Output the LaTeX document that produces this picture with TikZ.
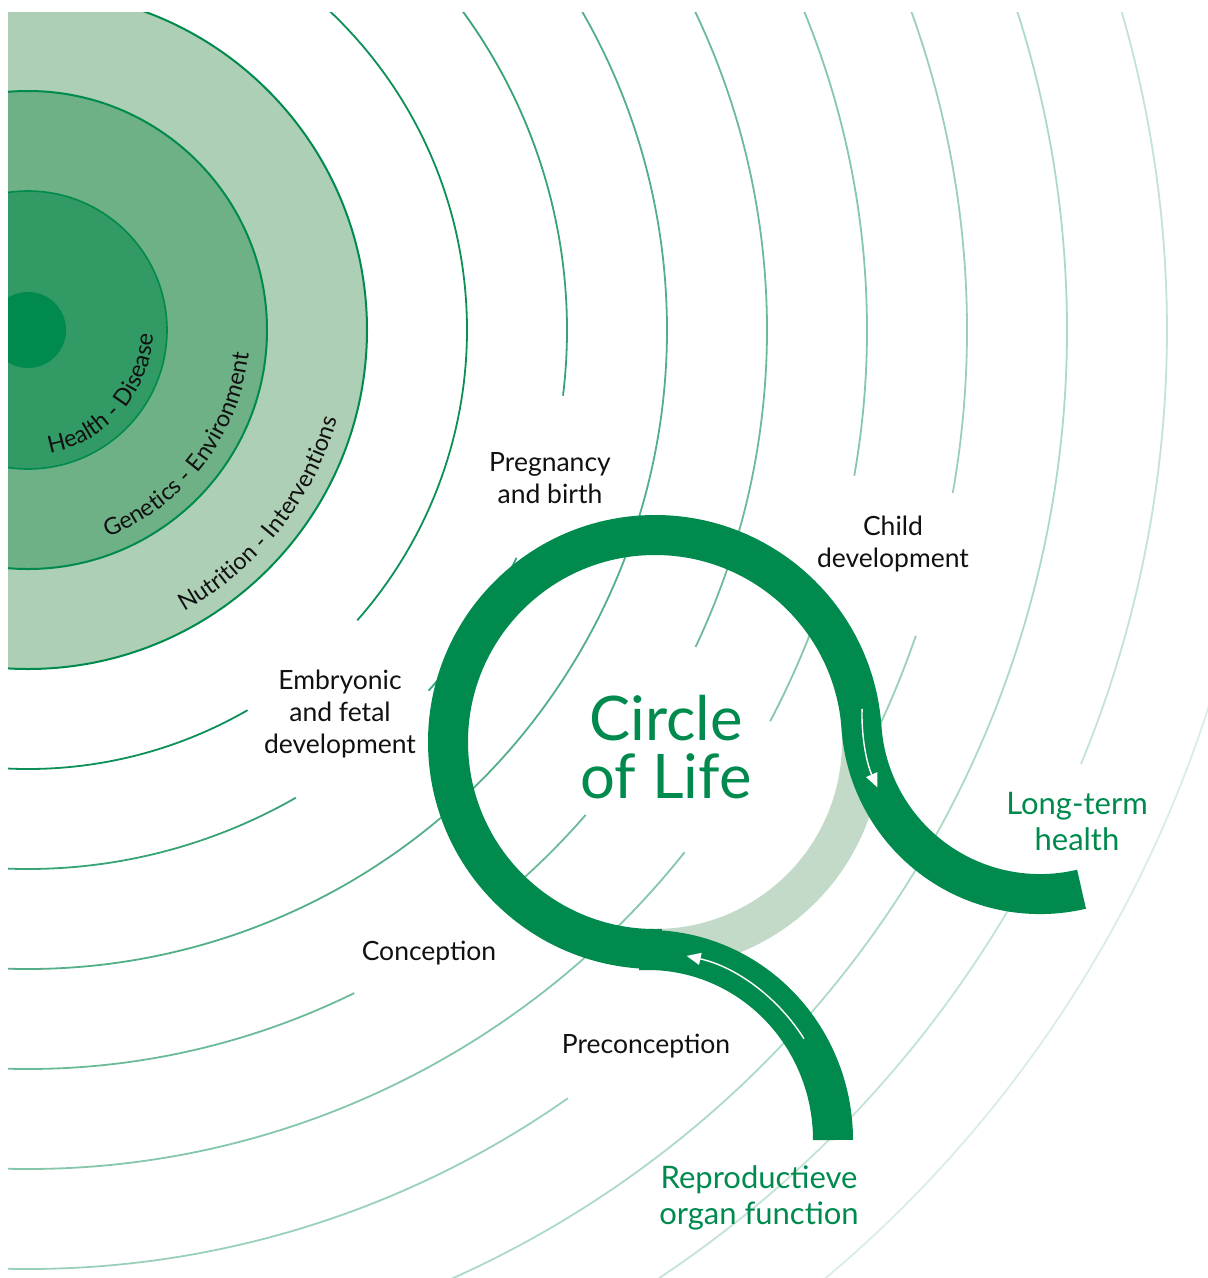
\documentclass[tikz,border=0pt]{standalone}
\usepackage{fontspec}
\setmainfont{Lato}
\usetikzlibrary{arrows.meta,decorations.text}
\definecolor{cg}{HTML}{008A4E}
\definecolor{cband}{HTML}{C2DAC7}
\definecolor{cthree}{HTML}{ADCFB5}
\definecolor{ctwo}{HTML}{6EB186}
\definecolor{cone}{HTML}{329A65}
\definecolor{ctext}{HTML}{111111}
\newcommand\lifearc[4]{\draw[arcline=#1] ([shift={(#2:#4)}]O) arc[start angle=#2,end angle=#3,radius=#4];}
\newcommand\curvefont{\fontsize{23.5}{23.5}\selectfont}
\begin{document}
\begin{tikzpicture}[x=1pt,y=1pt,
  arcline/.style={line width=1.8pt, draw=cg!#1!white},
  ringband/.style={line width=40pt},
  whitearrow/.style={draw=white, line width=1.4pt, -{Triangle[length=14pt,width=12pt,fill=white]}},
  lbl/.style={text=ctext, font=\fontsize{26.5}{32}\selectfont, align=center, inner sep=0pt},
  glbl/.style={text=cg, font=\fontsize{31}{36}\selectfont, align=center, inner sep=0pt},
  ttl/.style={text=cg, font=\fontsize{61.5}{58}\selectfont, align=center, inner sep=0pt},
  curved/.style={decorate, decoration={text along path, text align=center, text color=ctext, text={|\curvefont|#1}}}
]
\useasboundingbox (0,0) rectangle (1208,-1278);
\coordinate (O) at (28,-330);
\coordinate (R0) at (655,-742);
\coordinate (T1) at (1040,-715);
\coordinate (T2) at (648,-1140);
\begin{scope}
\clip (8,-12) rectangle (1208,-1278);
% concentric discs
\fill[cthree] (O) circle[radius=339];
\draw[cg, line width=2pt] (O) circle[radius=339];
\fill[ctwo] (O) circle[radius=239];
\draw[cg, line width=2pt] (O) circle[radius=239];
\fill[cone] (O) circle[radius=139];
\draw[cg, line width=1.6pt] (O) circle[radius=139];
\fill[cg] (O) circle[radius=38];
% ripple arcs
\lifearc{95}{92}{-41.4}{439}
\lifearc{95}{-60}{-95}{439}
\lifearc{78}{92}{-7}{539}
\lifearc{78}{-25}{-42}{539}
\lifearc{78}{-60.2}{-95}{539}
\lifearc{68}{92}{-95}{639}
\lifearc{58}{92}{-25.4}{739}
\lifearc{58}{-41}{-50.5}{739}
\lifearc{58}{-63.8}{-95}{739}
\lifearc{48}{92}{-10}{839}
\lifearc{48}{-19}{-27.8}{839}
\lifearc{48}{-38.5}{-95}{839}
\lifearc{40}{92}{-10}{939}
\lifearc{40}{-19}{-28}{939}
\lifearc{40}{-54.9}{-95}{939}
\lifearc{32}{92}{-95}{1039}
\lifearc{24}{92}{-22.4}{1139}
\lifearc{24}{-29.5}{-95}{1139}
\lifearc{15}{60}{-95}{1239}
% ring
\draw[ringband, cband] ([shift={(-92:207)}]R0) arc[start angle=-92, end angle=6, radius=207];
\draw[ringband, cg] ([shift={(272:207)}]R0) arc[start angle=272, end angle=4, radius=207]
   arc[start angle=184, end angle=283.4, radius=179];
\draw[ringband, cg] ([shift={(0:185)}]T2) arc[start angle=0, end angle=93, x radius=185, y radius=190];
% arrows
\draw[whitearrow] ([shift={(178:178)}]T1) arc[start angle=178, end angle=204, radius=178];
\draw[whitearrow] ([shift={(33:186)}]T2) arc[start angle=33, end angle=78, x radius=186, y radius=191];
\end{scope}
% curved labels
\path[curved={Health - Disease}] ([shift={(-101:125)}]O) arc[start angle=-101,end angle=19,radius=125];
\path[curved={Genetics - Environment}] ([shift={(-97.5:222)}]O) arc[start angle=-97.5,end angle=22.5,radius=222];
\path[curved={Nutrition - Interventions}] ([shift={(-98.5:322)}]O) arc[start angle=-98.5,end angle=21.5,radius=322];
% labels
\node[lbl] (preg) at (550,-478) {Pregnancy\\and birth};
\node[lbl] (child) at (893,-544) {Child\\development};
\node[lbl] (embr) at (340,-714) {Embryonic\\and fetal\\development};
\node[lbl] (conc) at (429,-953) {Conception};
\node[lbl] (prec) at (646,-1046) {Preconception};
\node[glbl] (lth) at (1077,-822) {Long-term\\health};
\node[glbl] (rof) at (759,-1198) {Reproductieve\\organ function};
\node[ttl] (col) at (666,-747) {Circle\\of Life};
\end{tikzpicture}
\end{document}
